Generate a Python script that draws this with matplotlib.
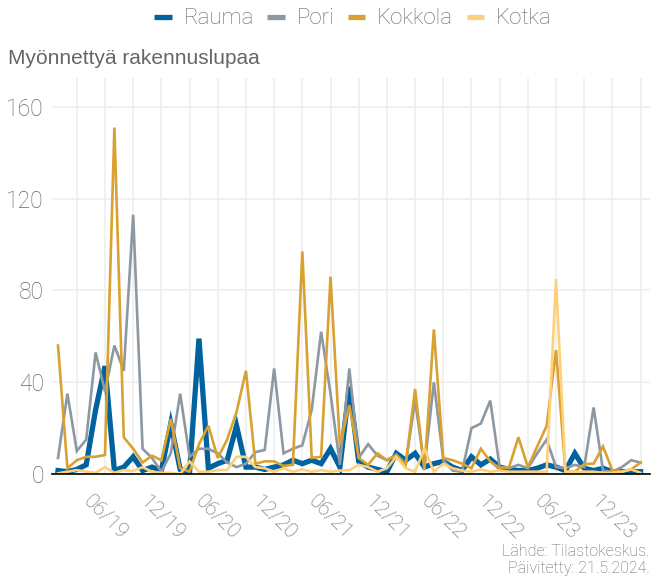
import matplotlib
matplotlib.use("Agg")
import matplotlib.pyplot as plt
from matplotlib.lines import Line2D
import matplotlib.font_manager as fm
import matplotlib.transforms as mtransforms

# ---- data (monthly, Jan 2019 .. Mar 2024) ----
start_year, start_month = 2019, 1
rauma = [1.5, 1, 2, 4, 28, 47, 1.5, 3, 7.5, 1.5, 3, 1.5,
         22, 2, 1, 59, 2.5, 4.5, 6, 21, 3, 3, 2, 3,
         4, 6, 4.5, 6, 4.5, 11, 3, 38, 5.5, 3, 2, 1,
         9, 6, 9, 3, 4.5, 5.5, 3, 1.5, 7.5, 4, 6.5, 3,
         2, 1.5, 1.5, 2.5, 4, 3, 1.5, 9, 2.5, 1.5, 2.5, 1,
         1, 1, 1]
pori = [7, 35, 10, 15, 53, 36, 56, 45, 113, 11, 7, 1,
        9, 35, 7.5, 11, 11, 9, 5, 3, 4.5, 9.5, 10.5, 46,
        9, 11, 12.5, 28, 62, 35, 4, 46, 7, 13, 8, 6,
        8.5, 4.5, 32, 3, 40, 6, 1.5, 1, 20, 22, 32, 3,
        2.5, 4, 2.5, 9, 15, 3, 2.5, 4, 3, 29, 1.5, 1,
        3, 6, 5]
kokkola = [56, 2.5, 6, 7.5, 7.5, 8.3, 151, 16, 11, 5, 8, 6,
           24, 2.5, 1, 13, 21, 7, 15, 27, 45, 4.5, 5.5, 5.5,
           3.5, 4, 97, 7, 7.5, 86, 12.5, 30, 7, 4, 9, 6,
           8, 4, 37, 1.7, 63, 7, 6, 4.5, 2.5, 11, 5.5, 2.5,
           3, 16, 3, 12, 21, 54, 1, 1, 4.3, 4.5, 12, 1.5,
           1, 2, 5]
kotka = [0.3, 1, 1.7, 1, 0.5, 3, 0.5, 1.7, 1.3, 3, 1, 0.5,
         0.5, 0, 5.5, 1, 1, 1.7, 1.7, 7.5, 7.5, 3, 2.5, 1,
         2.5, 1, 2, 1, 1.7, 1, 1.5, 1.7, 4, 3, 1, 2.5,
         7.5, 2.5, 1, 11, 1, 4.5, 2.5, 1.5, 1, 2, 1, 1.5,
         1, 1, 1, 1, 1, 85, 1, 1, 1, 1, 0.5, 0.5,
         1, 2, 0.5]
series_names = ["Rauma", "Pori", "Kokkola", "Kotka"]
y_ticks = [0, 40, 80, 120, 160]
y_title = "Myönnettyä rakennuslupaa"
source_lines = ["Lähde: Tilastokeskus.", "Päivitetty: 21.5.2024."]

colors = ["#0063a0", "#8c98a2", "#d9a131", "#fdd17c"]
widths = [3.8, 1.9, 1.9, 1.9]

names = {f.name for f in fm.fontManager.ttflist}
light_font = "Roboto" if "Roboto" in names else ("Lato" if "Lato" in names else "DejaVu Sans")
title_font = "Liberation Sans Narrow" if "Liberation Sans Narrow" in names else "Liberation Sans"
txt_color = "#666666"

n = len(rauma)
x = list(range(n))
months = [(start_year + (start_month - 1 + i) // 12, (start_month - 1 + i) % 12 + 1) for i in x]

fig = plt.figure(figsize=(6.51, 5.78), dpi=100)
ax = fig.add_axes([52 / 651, 1 - 474 / 578, (650 - 52) / 651, (474 - 78) / 578])

for vals, c, w in zip([rauma, pori, kokkola, kotka], colors, widths):
    ax.plot(x, vals, color=c, lw=w, solid_joinstyle="miter", zorder=3)

ax.set_xlim(-0.64, 63)
ax.set_ylim(0, 172.6)

# ticks every 3 months (Mar/Jun/Sep/Dec), labels on Jun/Dec
tick_pos = [i for i, (yy, mm) in enumerate(months) if mm % 3 == 0]
tick_lab = [f"{mm:02d}/{yy % 100:02d}" if mm in (6, 12) else "" for (yy, mm) in months if mm % 3 == 0]
ax.set_xticks(tick_pos)
ax.set_xticklabels(tick_lab, rotation=-45, ha="center", va="top",
                   fontsize=15, color=txt_color, family=light_font, fontweight="light")
offset = mtransforms.ScaledTranslation(-9 / 100, 0, fig.dpi_scale_trans)
for lab in ax.get_xticklabels():
    lab.set_transform(lab.get_transform() + offset)
ax.set_yticks(y_ticks)
ax.set_yticklabels([str(v) for v in y_ticks], fontsize=16.5, color=txt_color,
                   family=light_font, fontweight="light")
ax.tick_params(axis="both", length=0)
ax.tick_params(axis="x", pad=13)
ax.tick_params(axis="y", pad=6)

ax.grid(True, color="#efefef", lw=1.2, zorder=0)
ax.set_axisbelow(True)
for s in ["left", "right", "top"]:
    ax.spines[s].set_visible(False)
ax.spines["bottom"].set_color("#000000")
ax.spines["bottom"].set_linewidth(1.2)
ax.spines["bottom"].set_zorder(4)

handles = [Line2D([0], [0], color=c, lw=3.8, solid_capstyle="butt") for c in colors]
leg = ax.legend(handles, series_names, loc="center", bbox_to_anchor=(353 / 651, (578 - 19) / 578),
                bbox_transform=fig.transFigure, ncol=4, frameon=False,
                handlelength=0.77, handletextpad=0.55, columnspacing=0.6,
                prop={"family": light_font, "size": 16, "weight": "light"})
for t in leg.get_texts():
    t.set_color(txt_color)

fig.text(8 / 651, 1 - 59 / 578, y_title, ha="left", va="center", fontsize=15,
         color=txt_color, family=title_font)
fig.text(1 - 0.002, 1 - 552 / 578, source_lines[0], ha="right", va="center",
         fontsize=11.5, color=txt_color, family=light_font, fontweight="light")
fig.text(1 - 0.002, 1 - 569 / 578, source_lines[1], ha="right", va="center",
         fontsize=11.5, color=txt_color, family=light_font, fontweight="light")

fig.savefig("out.png", dpi=100)
